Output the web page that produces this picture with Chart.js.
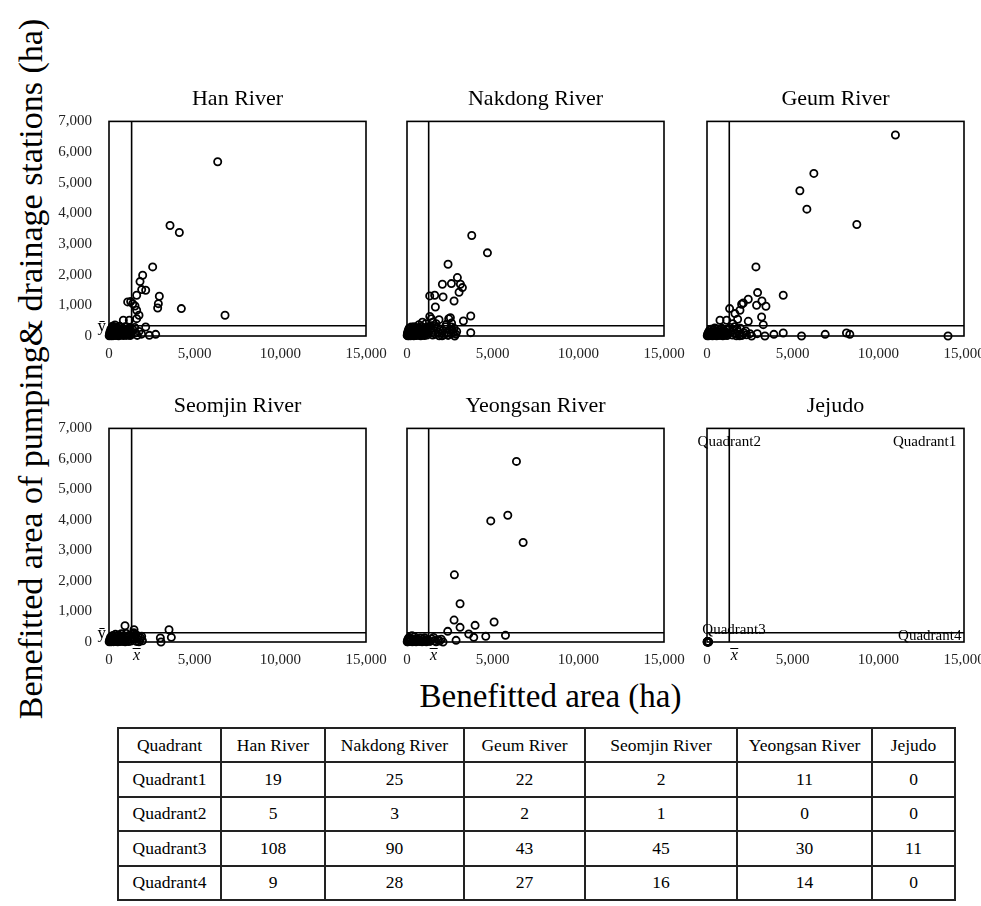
<!DOCTYPE html>
<html>
<head>
<meta charset="utf-8">
<script src="https://cdn.jsdelivr.net/npm/chart.js@4.4.1/dist/chart.umd.min.js"></script>
<style>
html,body{margin:0;padding:0;background:#fff;overflow:hidden}
body{width:981px;height:906px;position:relative;font-family:"Liberation Serif","Times New Roman",serif;color:#000}
.pn{position:absolute}
#ytitle{position:absolute;width:760px;height:40px;line-height:40px;text-align:center;font-size:34px;white-space:nowrap;transform:rotate(-90deg)}
#xtitle{position:absolute;width:400px;height:40px;line-height:40px;text-align:center;font-size:33px;white-space:nowrap}
#tbl{position:absolute;left:117px;top:727px;border-collapse:collapse;table-layout:fixed;font-size:17.5px}
#tbl td{border:2px solid #222;text-align:center;padding:0;height:32.4px;white-space:nowrap}
</style>
</head>
<body>
<div id="ytitle">Benefitted area of pumping&amp; drainage stations (ha)</div>
<div id="xtitle">Benefitted area (ha)</div>
<table id="tbl"></table>
<script>
// panel names and axis ticks
const rivers = ['Han River','Nakdong River','Geum River','Seomjin River','Yeongsan River','Jejudo'];
const xTicks = [0,5000,10000,15000];
const yTicks = [0,1000,2000,3000,4000,5000,6000,7000];
// mean lines (x bar, y bar) per panel
const meanX = [1320,1265,1300,1320,1265,1300];
const meanY = [335,335,335,305,305,305];
// quadrant labels shown on the Jejudo panel
const quadNames = ['Quadrant1','Quadrant2','Quadrant3','Quadrant4'];
const quadLabelX = [12700,1300,1575,13000];
const quadLabelY = [6550,6550,380,200];
// table counts per river (Quadrant1..4)
const hanCounts = [19,5,108,9];
const nakdongCounts = [25,3,90,28];
const geumCounts = [22,2,43,27];
const seomjinCounts = [2,1,45,16];
const yeongsanCounts = [11,0,30,14];
const jejuCounts = [0,0,11,0];

// points: [benefitted area, pumping & drainage area]
const han = [
 [6344,5685],[3561,3605],[4106,3376],[2549,2254],[1965,1982],[1810,1775],[1907,1514],[2141,1492],[1615,1329],[2938,1296],
 [1382,1056],[1518,980],[2880,1056],[2841,915],[1615,839],[1751,675],[4223,893],[6772,675],[1615,566],
 [1090,1111],[1265,1122],[837,512],[1187,512],[350,360],
 [1400,200],[1550,100],[1650,20],[1750,150],[1900,60],[2141,294],[2355,22],[2724,54],[1500,280],
 [12,5],[28,40],[40,110],[55,18],[66,75],[80,160],[95,30],[110,220],[122,60],[140,8],[155,130],[170,270],[188,45],[205,95],
 [220,180],[238,12],[255,240],[270,70],[290,150],[310,25],[325,300],[345,105],[365,55],[380,200],[400,15],[425,135],[445,260],
 [470,80],[490,35],[515,175],[540,110],[560,10],[585,230],[610,65],[635,145],[660,28],[690,280],[710,95],[735,190],[760,40],
 [790,120],[815,250],[840,15],[870,85],[900,170],[925,45],[955,300],[985,110],[1010,20],[1040,200],[1075,70],[1105,150],
 [1140,35],[1170,260],[1200,90],[1235,15],[1270,180],[1300,50],[200,320],[620,315]
];
const nakdong = [
 [3779,3278],[4695,2712],[2396,2341],[2941,1906],[2065,1688],[2591,1710],[3117,1688],[3234,1579],[3039,1427],[1325,1307],
 [1617,1329],[2104,1274],[2747,1143],[1656,947],[1330,640],[1422,566],[1870,534],[2435,566],[2532,599],[3292,490],
 [3721,653],[1500,450],[1700,400],[2300,380],[2600,420],
 [900,450],[1100,400],[700,370],
 [1400,250],[1450,100],[1500,30],[1580,180],[1650,60],[1720,280],[1800,130],[1880,10],[1950,220],[2020,80],[2100,170],
 [2180,40],[2250,300],[2330,110],[2400,20],[2480,200],[2560,70],[2591,294],[2650,180],[2700,120],[2786,0],[2750,250],
 [2850,60],[3721,109],[1350,320],[1600,310],[2050,5],[2900,150],
 [10,20],[25,90],[42,8],[58,150],[70,45],[88,210],[102,12],[118,100],[135,260],[150,35],[168,170],[185,70],[200,5],[222,130],
 [240,290],[258,55],[275,195],[298,20],[315,110],[338,240],[355,60],[378,160],[395,10],[418,300],[440,85],[462,190],[485,30],
 [505,130],[530,250],[552,15],[575,95],[600,210],[625,50],[650,150],[675,280],[700,25],[725,120],[752,200],[778,60],[800,10],
 [830,170],[855,310],[880,80],[905,140],[935,30],[960,230],[990,100],[1015,15],[1045,180],[1075,60],[1105,260],[1135,120],
 [1165,30],[1195,200],[1225,90],[1250,300]
];
const geum = [
 [10997,6556],[6237,5303],[5421,4737],[5829,4138],[8744,3637],[2856,2254],[2953,1416],[4449,1329],[2409,1198],[2118,1078],
 [2021,1035],[1924,839],[3206,1143],[2895,1002],[3439,969],[1320,893],[1632,730],[1788,545],[2409,479],[3187,621],
 [3284,370],[1500,400],
 [758,512],[1146,512],
 [2254,163],[2506,76],[2934,76],[2604,0],[3381,0],[3905,54],[4449,98],[5518,0],[6898,54],[8141,98],[8336,54],[14067,0],
 [1400,120],[1480,30],[1560,200],[1650,80],[1720,10],[1800,150],[1870,60],[1950,250],[2050,20],[2150,110],[1350,280],
 [1620,300],[2300,40],[1900,5],[1750,230],
 [15,10],[35,60],[55,20],[75,120],[95,5],[120,80],[145,180],[165,30],[190,100],[215,15],[240,220],[265,55],[290,140],
 [320,10],[345,90],[370,200],[395,35],[425,130],[450,260],[480,20],[505,75],[535,160],[560,5],[590,110],[620,230],[650,40],
 [680,150],[710,15],[740,90],[770,200],[800,30],[835,120],[865,250],[895,60],[925,10],[960,170],[990,80],[1025,25],
 [1060,140],[1095,50],[1130,210],[1170,15],[1210,100]
];
const seomjin = [
 [1460,403],[3503,403],
 [934,534],
 [3639,153],[2997,131],[3036,0],[1907,185],[1950,40],[1400,260],[1500,100],[1600,20],[1700,200],[1800,60],[1350,150],
 [1450,300],[1550,250],[1650,120],[1750,10],[1850,130],
 [10,5],[30,50],[48,15],[65,110],[85,30],[105,170],[125,8],[150,70],[172,130],[195,20],[220,210],[245,60],[270,12],
 [295,150],[320,40],[350,90],[375,250],[400,18],[430,120],[455,55],[485,190],[510,10],[540,85],[570,230],[600,35],
 [630,140],[660,15],[690,100],[720,270],[750,45],[785,160],[815,20],[850,110],[880,60],[915,200],[945,10],[980,130],
 [1010,280],[1045,40],[1080,170],[1115,75],[1150,15],[1190,220],[1230,95],[1280,30]
];
const yeongsan = [
 [6389,5919],[5883,4153],[4889,3968],[6779,3259],[2766,2202],[3097,1254],[2747,719],[3974,545],[5084,654],[3097,480],[2377,349],
 [3604,262],[3896,153],[4597,185],[5747,218],[2864,54],[2104,0],[1812,76],[1600,40],[1450,100],[1700,10],[1550,150],
 [1900,30],[2000,90],[1350,20],
 [12,10],[30,60],[50,5],[75,120],[100,30],[130,150],[160,15],[195,80],[230,40],[292,207],[310,10],[350,95],[395,25],
 [440,170],[485,50],[530,8],[580,110],[630,35],[680,70],[730,15],[780,130],[830,45],[880,5],[930,90],[980,25],[1030,140],
 [1080,50],[1130,10],[1180,80],[1230,30]
];
const jeju = [[5,0],[12,8],[20,3],[28,15],[35,0],[42,6],[50,20],[60,2],[70,10],[80,4],[95,0]];

const panelPts = [han,nakdong,geum,seomjin,yeongsan,jeju];
const counts = [hanCounts,nakdongCounts,geumCounts,seomjinCounts,yeongsanCounts,jejuCounts];

// canvas boxes: left, top, width, height, y-axis width
const boxes = [
 [40,80,350,286,69],[387,80,301,286,20],[687,80,301,286,20],
 [40,387,350,285,69],[387,387,301,285,20],[687,387,301,285,20]
];
const SERIF = "'Liberation Serif','Times New Roman',serif";

const framePlugin = {
  id: 'frame',
  afterDatasetsDraw(chart, args, o) {
    const {ctx, chartArea: a, scales: {x, y}} = chart;
    ctx.save();
    ctx.strokeStyle = '#000'; ctx.lineWidth = 1.6;
    ctx.strokeRect(a.left, a.top, a.width, a.height);
    ctx.fillStyle = '#000';
    if (o.ybar) {
      ctx.font = '17px ' + SERIF;
      ctx.textAlign = 'right'; ctx.textBaseline = 'middle';
      ctx.fillText('\u0233', a.left - 3, y.getPixelForValue(o.my) + 1);
    }
    if (o.xbar) {
      const px = x.getPixelForValue(o.mx) + 5, py = a.bottom + 14;
      ctx.font = 'italic 16px ' + SERIF;
      ctx.textAlign = 'center'; ctx.textBaseline = 'middle';
      ctx.fillText('x', px, py);
      ctx.lineWidth = 1;
      ctx.beginPath(); ctx.moveTo(px - 4, py - 7.5); ctx.lineTo(px + 4, py - 7.5); ctx.stroke();
    }
    if (o.quads) {
      ctx.font = '15px ' + SERIF;
      ctx.textAlign = 'center'; ctx.textBaseline = 'middle';
      quadNames.forEach((q, k) => {
        ctx.fillText(q, x.getPixelForValue(quadLabelX[k]), y.getPixelForValue(quadLabelY[k]));
      });
    }
    ctx.restore();
  }
};

panelPts.forEach((pts, i) => {
  const b = boxes[i];
  const wrap = document.createElement('div');
  wrap.className = 'pn';
  wrap.style.left = b[0] + 'px'; wrap.style.top = b[1] + 'px';
  const cv = document.createElement('canvas');
  cv.width = b[2]; cv.height = b[3];
  cv.style.width = b[2] + 'px'; cv.style.height = b[3] + 'px';
  wrap.appendChild(cv);
  document.body.appendChild(wrap);
  const leftCol = i % 3 === 0;
  new Chart(cv, {
    type: 'scatter',
    data: {datasets: [
      {data: pts.map(p => ({x: p[0], y: p[1]})), pointRadius: 3.6, pointBorderWidth: 1.8,
       pointBorderColor: '#000', pointBackgroundColor: 'rgba(0,0,0,0)', clip: false},
      {data: [{x: meanX[i], y: 0}, {x: meanX[i], y: 7000}], showLine: true, borderColor: '#000',
       borderWidth: 1.6, pointRadius: 0},
      {data: [{x: 0, y: meanY[i]}, {x: 15000, y: meanY[i]}], showLine: true, borderColor: '#000',
       borderWidth: 1.6, pointRadius: 0}
    ]},
    options: {
      responsive: false, animation: false, devicePixelRatio: 1,
      layout: {padding: {top: 0, right: 24, bottom: 0, left: 0}},
      plugins: {
        legend: {display: false}, tooltip: {enabled: false},
        title: {display: true, text: rivers[i], fullSize: false, color: '#000',
                font: {family: SERIF, size: 22, weight: 'normal'}, padding: {top: 6, bottom: 9}},
        frame: {ybar: leftCol, xbar: i >= 3, quads: i === 5, mx: meanX[i], my: meanY[i]}
      },
      scales: {
        x: {type: 'linear', min: 0, max: 15000,
            grid: {display: false, drawTicks: false}, border: {display: false},
            afterBuildTicks: s => { s.ticks = xTicks.map(v => ({value: v})); },
            afterFit: s => { s.height = 30; s.paddingLeft = 0; s.paddingRight = 0; },
            ticks: {padding: 9, color: '#222', maxRotation: 0, font: {family: SERIF, size: 15},
                    callback: v => v.toLocaleString('en-US')}},
        y: {type: 'linear', min: 0, max: 7000,
            grid: {display: false, drawTicks: false}, border: {display: false},
            afterBuildTicks: s => { s.ticks = yTicks.map(v => ({value: v})); },
            afterFit: s => { s.width = b[4]; s.paddingTop = 0; s.paddingBottom = 0; },
            ticks: {display: leftCol, padding: 17, color: '#222', font: {family: SERIF, size: 15},
                    callback: v => v.toLocaleString('en-US')}}
      }
    },
    plugins: [framePlugin]
  });
});

// axis titles
const yt = document.getElementById('ytitle');
yt.style.left = (30.5 - 380) + 'px'; yt.style.top = (369 - 20) + 'px';
const xt = document.getElementById('xtitle');
xt.style.left = '350.5px'; xt.style.top = '675.6px';

// table
const colW = [103,104,139,121,152,135,83];
let html = '<colgroup>' + colW.map(w => `<col style="width:${w}px">`).join('') + '</colgroup>';
html += '<tr><td>Quadrant</td>' + rivers.map(r => `<td>${r}</td>`).join('') + '</tr>';
quadNames.forEach((q, k) => {
  html += `<tr><td>${q}</td>` + counts.map(c => `<td>${c[k]}</td>`).join('') + '</tr>';
});
const tbl = document.getElementById('tbl');
tbl.style.width = colW.reduce((s, w) => s + w, 0) + 'px';
tbl.innerHTML = html;
</script>
</body>
</html>
